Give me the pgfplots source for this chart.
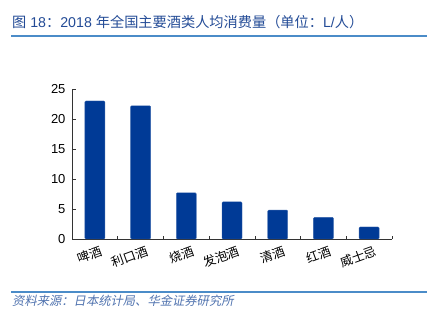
\documentclass[border=0pt]{standalone}
\usepackage{pgfplots}
\pgfplotsset{compat=1.18}
\usepackage{fontspec}
\setmainfont{Liberation Sans}
\newfontfamily\cjk{Noto Sans CJK SC}
\newfontfamily\cjkit{Noto Sans CJK SC}[FakeSlant=0.2]
\definecolor{barblue}{RGB}{0,58,150}
\definecolor{titleblue}{RGB}{35,75,150}
\definecolor{lineblue}{RGB}{75,140,200}
\definecolor{srcblue}{RGB}{80,115,175}
\begin{document}
\begin{tikzpicture}[x=1pt,y=1pt]
\path[use as bounding box] (0,0) rectangle (434,321);
\node[anchor=west, inner sep=0pt, text=titleblue, font=\fontsize{14.2}{16}\selectfont] at (12,299) {{\cjk 图} 18{\cjk ：}2018 {\cjk 年全国主要酒类人均消费量（单位：}L/{\cjk 人）}};
\draw[lineblue, line width=1.1pt] (11,285) -- (427,285);
\draw[lineblue, line width=1.1pt] (11,29) -- (427,29);
\node[anchor=west, inner sep=0pt, text=srcblue, font=\fontsize{12.3}{14}\selectfont] at (12,20) {\cjkit 资料来源：日本统计局、华金证券研究所};
\begin{axis}[
  at={(72pt,82pt)}, anchor=south west,
  scale only axis, width=320pt, height=150pt,
  xmin=-0.5, xmax=6.5, ymin=0, ymax=25,
  axis x line*=bottom, axis y line*=left,
  axis line style={black!80, line width=0.6pt},
  xtick={0,...,6},
  xticklabels={啤酒,利口酒,烧酒,发泡酒,清酒,红酒,威士忌},
  x tick label style={font=\cjk\fontsize{12.5}{13}\selectfont, rotate=20, anchor=north east, xshift=6pt, yshift=-4pt},
  major x tick style={draw=none},
  minor xtick={-0.5,0.5,...,6.5},
  minor tick length=3pt,
  minor x tick style={black!80, line width=0.6pt},
  ytick={0,5,...,25},
  major tick length=4pt,
  major y tick style={black!80, line width=0.6pt},
  y tick label style={font=\fontsize{13}{14}\selectfont, xshift=-3pt},
  /pgf/number format/assume math mode=true,
  tick align=inside,
  clip=false,
]
\addplot[ybar, bar width=20pt, fill=barblue, draw=barblue!80!white, rounded corners=1pt] coordinates {
(0,23.0) (1,22.2) (2,7.7) (3,6.2) (4,4.8) (5,3.6) (6,2.0)};
\end{axis}
\end{tikzpicture}
\end{document}
